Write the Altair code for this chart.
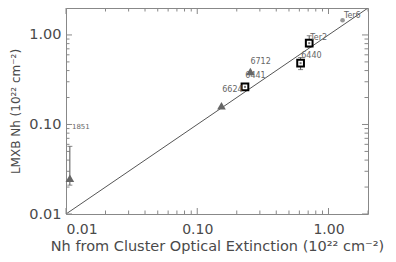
import altair as alt
import pandas as pd

# --- data ---
pt_name  = ["1851", "n1", "6712", "6441", "6440", "Ter2", "Ter6"]
pt_x     = [0.0107, 0.153, 0.254, 0.231, 0.613, 0.713, 1.28]
pt_y     = [0.025, 0.162, 0.39, 0.263, 0.484, 0.81, 1.46]
pt_kind  = ["tri", "tri", "tri", "sq", "sq", "sq", "dot"]
err_name = ["1851", "6440", "Ter2"]
err_x    = [0.0107, 0.613, 0.713]
err_lo   = [0.021, 0.41, 0.73]
err_hi   = [0.057, 0.56, 0.98]

lab_text = ["6712", "6441", "6624", "6440", "Ter2", "Ter6"]
lab_x    = [0.254, 0.2325, 0.155, 0.62, 0.726, 1.31]
lab_y    = [0.505, 0.347, 0.24, 0.58, 0.92, 1.61]
lab1851_x = [0.0111]
lab1851_y = [0.0927]

diag_x = [0.01, 2.0]
diag_y = [0.01, 2.0]

major_ticks = [0.01, 0.1, 1.0]
minor_ticks = [k * 10.0 ** e for e in (-2, -1, 0) for k in range(2, 10) if k * 10.0 ** e <= 2.0]
tick_labels = [0.01, 0.1, 1.0]

W, H = 302, 206
XMIN, XMAX = 0.01, 2.0
FONT = "DejaVu Sans"
AX = "#4a4a4a"

xs = alt.Scale(type="log", domain=[XMIN, XMAX], nice=False, zero=False)
ys = alt.Scale(type="log", domain=[XMIN, XMAX], nice=False, zero=False)

pts = pd.DataFrame({"name": pt_name, "x": pt_x, "y": pt_y, "kind": pt_kind})
errs = pd.DataFrame({"name": err_name, "x": err_x, "lo": err_lo, "hi": err_hi})
labs = pd.DataFrame({"t": lab_text, "x": lab_x, "y": lab_y})
lab1851 = pd.DataFrame({"t": ["1851"], "x": lab1851_x, "y": lab1851_y})
diag = pd.DataFrame({"x": diag_x, "y": diag_y})

X = lambda f="x", **kw: alt.X(f, type="quantitative", scale=xs, **kw)
Y = lambda f="y", **kw: alt.Y(f, type="quantitative", scale=ys, **kw)

# base layer with axes
base = alt.Chart(diag).mark_line(color="#555555", strokeWidth=1).encode(
    x=X("x", axis=alt.Axis(
        values=tick_labels, format=".2f", ticks=False, grid=False, domain=False,
        title="Nh from Cluster Optical Extinction (10²² cm⁻²)",
        labelFont=FONT, labelFontSize=14, labelColor=AX, labelPadding=8,
        titleFont=FONT, titleFontSize=14.5, titleFontWeight="normal", titleColor=AX,
        titleY=36, titleBaseline="alphabetic")),
    y=Y("y", axis=alt.Axis(
        values=tick_labels, format=".2f", ticks=False, grid=False, domain=False,
        title="LMXB Nh (10²² cm⁻²)",
        labelFont=FONT, labelFontSize=14.5, labelColor=AX, labelPadding=5,
        titleFont=FONT, titleFontSize=12, titleFontWeight="normal", titleColor=AX,
        titleX=-51, titleBaseline="middle")),
)

def xtick_layers(vals, ln):
    d = pd.DataFrame({"v": vals})
    bottom = alt.Chart(d).mark_rule(color="#888888", strokeWidth=1).encode(
        x=X("v"), y=alt.value(H), y2=alt.value(H - ln))
    top = alt.Chart(d).mark_rule(color="#888888", strokeWidth=1).encode(
        x=X("v"), y=alt.value(0), y2=alt.value(ln))
    return [bottom, top]

def ytick_layers(vals, ln):
    d = pd.DataFrame({"v": vals})
    left = alt.Chart(d).mark_rule(color="#888888", strokeWidth=1).encode(
        y=Y("v"), x=alt.value(0), x2=alt.value(ln))
    right = alt.Chart(d).mark_rule(color="#888888", strokeWidth=1).encode(
        y=Y("v"), x=alt.value(W), x2=alt.value(W - ln))
    return [left, right]

ticks = (xtick_layers(major_ticks, 6) + xtick_layers(minor_ticks, 3.5)
         + ytick_layers(major_ticks, 6) + ytick_layers(minor_ticks, 3.5))

err_rule = alt.Chart(errs).mark_rule(color="#555555", strokeWidth=1).encode(
    x=X("x"), y=Y("lo"), y2="hi")
cap_lo = alt.Chart(errs).mark_tick(color="#555555", orient="horizontal", size=5, thickness=1).encode(
    x=X("x"), y=Y("lo"))
cap_hi = alt.Chart(errs).mark_tick(color="#555555", orient="horizontal", size=5, thickness=1).encode(
    x=X("x"), y=Y("hi"))

tri = alt.Chart(pts).transform_filter("datum.kind == 'tri'").mark_point(
    shape="triangle-up", filled=True, color="#666666", size=75, opacity=1).encode(
    x=X("x"), y=Y("y"))
sq = alt.Chart(pts).transform_filter("datum.kind == 'sq'").mark_point(
    shape="square", filled=True, fill="white", stroke="black", strokeWidth=2, size=45, opacity=1).encode(
    x=X("x"), y=Y("y"))
sq_dot = alt.Chart(pts).transform_filter("datum.kind == 'sq'").mark_point(
    shape="square", filled=True, color="#777777", size=4, opacity=1).encode(
    x=X("x"), y=Y("y"))
dot = alt.Chart(pts).transform_filter("datum.kind == 'dot'").mark_point(
    shape="circle", filled=True, color="#999999", size=22, opacity=1).encode(
    x=X("x"), y=Y("y"))

labels = alt.Chart(labs).mark_text(
    align="left", baseline="middle", font=FONT, fontSize=8, color="#666666").encode(
    x=X("x"), y=Y("y"), text="t")
label1851 = alt.Chart(lab1851).mark_text(
    align="left", baseline="middle", font=FONT, fontSize=7, color="#666666").encode(
    x=X("x"), y=Y("y"), text="t")

chart = alt.layer(base, *ticks, err_rule, cap_lo, cap_hi, tri, sq, sq_dot, dot, labels, label1851).properties(
    width=W, height=H,
    autosize=alt.AutoSizeParams(type="none"),
    padding={"left": 58, "top": 0, "right": 20, "bottom": 40},
    background="white",
).configure_view(stroke="#888888", strokeWidth=1)

chart.save("out.html", embed_options={"renderer": "svg", "actions": False})
